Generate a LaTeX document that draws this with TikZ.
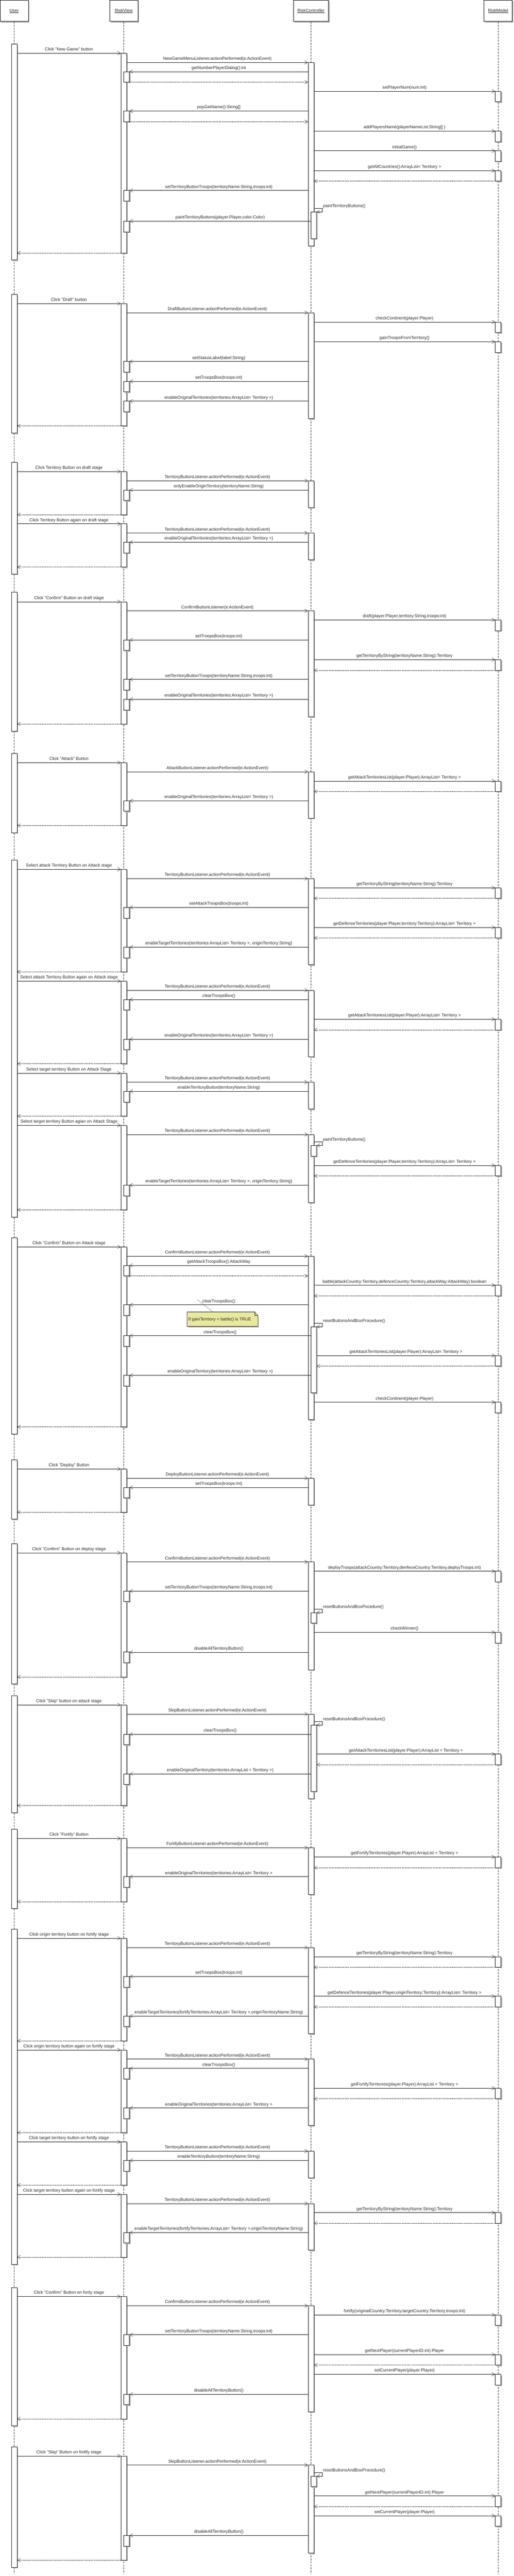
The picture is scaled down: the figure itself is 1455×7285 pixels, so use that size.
\documentclass[tikz,border=0pt]{standalone}
\usepackage{fontspec}
\setmainfont{Liberation Sans}
\usetikzlibrary{arrows.meta}
\definecolor{ink}{HTML}{262626}
\definecolor{shd}{HTML}{B8B8B8}
\definecolor{notefill}{RGB}{232,232,158}
\def\U{40}\def\V{350.5}\def\C{880.5}\def\M{1410.5}
\newcounter{cn}
\tikzset{
  txt/.style={font=\fontsize{12.2}{14}\selectfont, text=ink, inner sep=0pt},
  lbl/.style={txt, midway, anchor=base, yshift=6.6pt},
  call/.style={draw=ink, line width=0.75pt, -{Straight Barb[length=9pt,width=9.4pt]}},
  ret/.style={draw=ink, line width=0.75pt, dash pattern=on 3pt off 1.6pt, -{Straight Barb[length=9pt,width=9.4pt]}},
  life/.style={draw=ink!85, line width=0.7pt, dash pattern=on 5.5pt off 3pt},
  actbox/.style={draw=ink, line width=0.8pt, fill=white},
  headbox/.style={txt, draw=ink, line width=0.8pt, fill=white, minimum height=60.5pt},
  notebox/.style={draw=ink, line width=0.8pt, fill=notefill},
  anchorline/.style={draw=ink, line width=0.7pt, dash pattern=on 3pt off 2pt},
}
% activation bar: left x, top y, bottom y
\newcommand{\abar}[3]{%
  \fill[shd] (#1+3,#2+3) rectangle (#1+19,#3+3);
  \draw[actbox] (#1,#2) rectangle (#1+16,#3);}
\newcommand{\link}[5]{%
  \stepcounter{cn}%
  \coordinate (a\arabic{cn}) at (#2,#4);
  \coordinate (b\arabic{cn}) at (#3,#4);
  \draw[#1] (a\arabic{cn}) -- node[lbl]{#5} (b\arabic{cn});}
\newcommand{\ub}[2]{\abar{\U-8}{#1}{#2}}
\newcommand{\vb}[2]{\abar{\V-8}{#1}{#2}}
\newcommand{\cb}[2]{\abar{\C-8}{#1}{#2}}
\newcommand{\uv}[2]{\link{call}{\U+8}{\V-8}{#1}{#2}}
\newcommand{\vc}[2]{\link{call}{\V+8}{\C-8}{#1}{#2}}
\newcommand{\cv}[2]{\abar{\V}{#1}{#1+30}\link{call}{\C-8}{\V+16}{#1}{#2}}
\newcommand{\cvn}[2]{\abar{\V}{#1}{#1+30}\link{call}{\C}{\V+16}{#1}{#2}}
\newcommand{\vcret}[1]{\link{ret}{\V+16}{\C-8}{#1}{}}
\newcommand{\cm}[2]{\abar{\M-8}{#1}{#1+30}\link{call}{\C+8}{\M-8}{#1}{#2}}
\newcommand{\cmr}[2]{\cm{#1}{#2}\link{ret}{\M-8}{\C+8}{#1+30}{}}
\newcommand{\cmnr}[2]{\abar{\M-8}{#1}{#1+30}\link{call}{\C+16}{\M-8}{#1}{#2}\link{ret}{\M-8}{\C+16}{#1+30}{}}
\newcommand{\vu}[1]{\link{ret}{\V-8}{\U+8}{#1}{}}
\newcommand{\selfc}[3]{%
  \abar{\C}{#1+10}{#3}%
  \stepcounter{cn}%
  \coordinate (a\arabic{cn}) at (\C+8,#1);
  \coordinate (b\arabic{cn}) at (\C+16,#1+10);
  \draw[call] (a\arabic{cn}) -- ++(24,0) |- (b\arabic{cn});
  \node[txt, anchor=base west] (s\arabic{cn}) at (\C+34,#1-2.5) {#2};}
\begin{document}
\begin{tikzpicture}[x=1pt,y=-1pt]
\useasboundingbox (0,0) rectangle (1455,7285);
% headers
\fill[shd] (\U-40+3.5,3.5) rectangle (\U+40+3.5,64);
\fill[shd] (\V-40+3.5,3.5) rectangle (\V+40+3.5,64);
\fill[shd] (\C-50+3.5,3.5) rectangle (\C+50+3.5,64);
\fill[shd] (\M-40+3.5,3.5) rectangle (\M+40+3.5,64);
\node[headbox, minimum width=80pt] (user) at (\U,30.5) {\underline{User}};
\node[headbox, minimum width=80pt] (view) at (\V,30.5) {\underline{RiskView}};
\node[headbox, minimum width=100pt] (ctrl) at (\C,30.5) {\underline{RiskController}};
\node[headbox, minimum width=80pt] (model) at (\M,30.5) {\underline{RiskModel}};
\coordinate (userend) at (\U,7278);
\coordinate (viewend) at (\V,7278);
\coordinate (ctrlend) at (\C,7278);
\coordinate (modelend) at (\M,7278);
\draw[life] (user.south) -- (userend);
\draw[life] (view.south) -- (viewend);
\draw[life] (ctrl.south) -- (ctrlend);
\draw[life] (model.south) -- (modelend);

% ---- New Game
\ub{124.5}{735}\vb{150.5}{715.5}\cb{176.5}{695}
\uv{150.5}{Click "New Game" button}
\vc{176.5}{NewGameMenuListener.actionPerformed(e:ActionEvent)}
\cv{202.3}{getNumberPlayerDialog():int}\vcret{232.3}
\cm{258}{setPlayerNum(num:int)}
\cv{314}{popGetName():String[]}\vcret{344}
\cm{370.5}{addPlayersName(playerNameList:String[] )}
\cm{426.5}{initialGame()}
\cmr{482.5}{getAllCountries():ArrayList< Territory >}
\cv{538.5}{setTerritoryButtonTroops(territoryName:String,troops:int)}
\selfc{589}{paintTerritoryButtons()}{675}
\cvn{625.5}{paintTerritoryButtons(player:Player,color:Color)}
\vu{715.5}

% ---- Draft
\ub{832.2}{1224.7}\vb{858.3}{1204.5}\cb{884.3}{1184}
\uv{858.3}{Click "Draft" button}
\vc{884.3}{DraftButtonListener.actionPerformed(e:ActionEvent)}
\cm{910.4}{checkContinent(player:Player)}
\cm{966.4}{gainTroopsFromTerritory()}
\cv{1022.4}{setStatusLabel(label:String)}
\cv{1078.4}{setTroopsBox(troops:int)}
\cv{1134.4}{enableOriginalTerritories(territories:ArrayList< Territory >)}
\vu{1204.5}

% ---- Territory on draft stage
\ub{1307.2}{1623.2}\vb{1333.2}{1455.3}\cb{1359.3}{1435.3}
\uv{1333.2}{Click Territory Button on draft stage}
\vc{1359.3}{TerritoryButtonListener.actionPerformed(e:ActionEvent)}
\cv{1385.5}{onlyEnableOriginTerritory(territoryName:String)}
\vu{1455.3}
\vb{1481.2}{1603.5}\cb{1507.4}{1583.4}
\uv{1481.2}{Click Territory Button again on draft stage}
\vc{1507.4}{TerritoryButtonListener.actionPerformed(e:ActionEvent)}
\cv{1533.3}{enableOriginalTerritories(territories:ArrayList< Territory >)}
\vu{1603.5}

% ---- Confirm on draft stage
\ub{1675.2}{2067.3}\vb{1701.5}{2047.2}\cb{1727.3}{2027.2}
\uv{1701.5}{Click "Confirm" Button on draft stage}
\vc{1727.3}{ConfirmButtonListener(e:ActionEvent)}
\cm{1753.2}{draft(player:Player,territory:String,troops:int)}
\cv{1809.5}{setTroopsBox(troops:int)}
\cmr{1865.4}{getTerritoryByString(territoryName:String):Territory}
\cv{1921.4}{setTerritoryButtonTroops(territoryName:String,troops:int)}
\cv{1977.4}{enableOriginalTerritories(territories:ArrayList< Territory >)}
\vu{2047.2}

% ---- Attack
\ub{2130.2}{2354.3}\vb{2156.4}{2334.3}\cb{2182.3}{2314.2}
\uv{2156.4}{Click "Attack" Button}
\vc{2182.3}{AttackButtonListener.actionPerformed(e:ActionEvent)}
\cmr{2208.5}{getAttackTerritoriesList(player:Player):ArrayList< Territory >}
\cv{2264.4}{enableOriginalTerritories(territories:ArrayList< Territory >)}
\vu{2334.3}

% ---- Select territories on attack stage
\ub{2432.3}{3441.7}\vb{2458.5}{2748.3}\cb{2484.4}{2728.3}
\uv{2458.5}{Select attack Territory Button on Attack stage}
\vc{2484.4}{TerritoryButtonListener.actionPerformed(e:ActionEvent)}
\cmr{2510.6}{getTerritoryByString(territoryName:String):Territory}
\cv{2566.2}{setAttackTroopsBox(troops:int)}
\cmr{2622.5}{getDefenceTerritories(player:Player,territory:Territory):ArrayList< Territory >}
\cv{2678.5}{enableTargetTerritories(territories:ArrayList< Territory >, originTerritory:String)}
\vu{2748.3}
\vb{2774.6}{3008.3}\cb{2800.4}{2988.3}
\uv{2774.6}{Select attack Territory Button again on Attack stage}
\vc{2800.4}{TerritoryButtonListener.actionPerformed(e:ActionEvent)}
\cv{2826.3}{clearTroopsBox()}
\cmr{2882.2}{getAttackTerritoriesList(player:Player):ArrayList< Territory >}
\cv{2938.5}{enableOriginalTerritories(territories:ArrayList< Territory >)}
\vu{3008.3}
\vb{3034.6}{3156.2}\cb{3060.4}{3136.4}
\uv{3034.6}{Select target territory Button on Attack Stage}
\vc{3060.4}{TerritoryButtonListener.actionPerformed(e:ActionEvent)}
\cv{3086.3}{enableTerritoryButton(territoryName:String)}
\vu{3156.2}
\vb{3182.4}{3421.2}\cb{3208.3}{3401.2}
\uv{3182.4}{Select target territory Button agian on Attack Stage}
\vc{3208.3}{TerritoryButtonListener.actionPerformed(e:ActionEvent)}
\selfc{3229.1}{paintTerritoryButtons()}{3269.2}
\cmr{3295.5}{getDefenceTerritories(player:Player,territory:Territory):ArrayList< Territory >}
\cv{3351.4}{enableTargetTerritories(territories:ArrayList< Territory >, originTerritory:String)}
\vu{3421.2}

% ---- Confirm on attack stage
\ub{3500.3}{4055.2}\vb{3526.2}{4035.1}\cb{3552.4}{4015}
\uv{3526.2}{Click "Confirm" Button on Attack stage}
\vc{3552.4}{ConfirmButtonListener.actionPerformed(e:ActionEvent)}
\cv{3578.3}{getAttackTroopsBox():AttackWay}\vcret{3608.3}
\cmr{3634.6}{battle(attackCountry:Territory,defenceCountry:Territory,attackWay:AttackWay):boolean}
\cv{3690.1}{clearTroopsBox()}
\fill[shd] (533,3713) -- (724,3713) -- (733,3723) -- (733,3754) -- (533,3754) -- cycle;
\draw[notebox] (530,3710.2) -- (721,3710.2) -- (730,3719.5) -- (730,3751) -- (530,3751) -- cycle;
\draw[ink, line width=0.7pt] (721,3710.2) -- (721,3719.5) -- (730,3719.5);
\node[txt, anchor=base west] (note) at (533,3735.5) {If gainTerritory = battle() is TRUE};
\coordinate (noteanchor) at (603,3710.2);
\coordinate (notelabel) at (559.6,3675.9);
\draw[anchorline] (notelabel) -- (noteanchor);
\selfc{3741.5}{resetButtonsAndBoxProcedure()}{3939}
\cvn{3777.4}{clearTroopsBox()}
\cmnr{3833.3}{getAttackTerritoriesList(player:Player):ArrayList< Territory >}
\cvn{3889.3}{enableOriginalTerritory(territories:ArrayList< Territory >)}
\cm{3965.3}{checkContinent(player:Player)}
\vu{4035.1}

% ---- Deploy
\ub{4128.5}{4296.3}\vb{4154.3}{4276.3}\cb{4180.2}{4256.2}
\uv{4154.3}{Click "Deploy" Button}
\vc{4180.2}{DeployButtonListener.actionPerformed(e:ActionEvent)}
\cv{4206.4}{setTroopsBox(troops:int)}
\vu{4276.3}

% ---- Confirm on deploy stage
\ub{4365.4}{4762.4}\vb{4391.3}{4742.4}\cb{4417.1}{4722.3}
\uv{4391.3}{Click "Confirm" Button on deploy stage}
\vc{4417.1}{ConfirmButtonListener.actionPerformed(e:ActionEvent)}
\cm{4443.4}{deployTroops(attackCountry:Territory,denfeceCountry:Territory,deployTroops:int)}
\cv{4499.3}{setTerritoryButtonTroops(territoryName:String,troops:int)}
\selfc{4550.2}{resetButtonsAndBoxPocedure()}{4590.4}
\cm{4616.2}{checkWinner()}
\cv{4672.2}{disableAllTerritoryButton()}
\vu{4742.4}

% ---- Skip on attack stage
\ub{4794.8}{5126.3}\vb{4821.1}{5106.3}\cb{4847.3}{5086.2}
\uv{4821.1}{Click "Skip" button on attack stage}
\vc{4847.3}{SkipButtonListener.actionPerformed(e:ActionEvent)}
\selfc{4868.2}{resetButtonsAndBoxProcedure()}{5066.5}
\cvn{4904.4}{clearTroopsBox()}
\cmnr{4960.4}{getAttackTerritoriesList(player:Player):ArrayList < Territory >}
\cvn{5016.4}{enableOriginalTerritory(territories:ArrayList < Territory >)}
\vu{5106.3}

% ---- Fortify
\ub{5173.4}{5397.2}\vb{5199.2}{5377.5}\cb{5225.5}{5357.4}
\uv{5199.2}{Click "Fortify" Button}
\vc{5225.5}{FortifyButtonListener.actionPerformed(e:ActionEvent)}
\cmr{5251.7}{getFortifyTerritories(player:Player):ArrayList < Territory >}
\cv{5307.3}{enableOriginalTerritories(territories:ArrayList< Territory >}
\vu{5377.5}

% ---- Territory buttons on fortify stage
\ub{5455.4}{6403.5}\vb{5481.3}{5771.5}\cb{5507.5}{5751.4}
\uv{5481.3}{Click origin territory button on fortify stage}
\vc{5507.5}{TerritoryButtonListener.actionPerformed(e:ActionEvent)}
\cmr{5533.3}{getTerritoryByString(territoryName:String):Territory}
\cv{5589.4}{setTroopsBox(troops:int)}
\cmr{5645.3}{getDefenceTerritories(player:Player,originTerritory:Territory):ArrayList< Territory >}
\cv{5701.2}{enableTargetTerritories(fortifyTerritories:ArrayList< Territory >,originTerritoryName:String)}
\vu{5771.5}
\vb{5797.3}{6031.1}\cb{5823.2}{6011}
\uv{5797.3}{Click origin territory button again on fortify stage}
\vc{5823.2}{TerritoryButtonListener.actionPerformed(e:ActionEvent)}
\cv{5849.4}{clearTroopsBox()}
\cmr{5905.3}{getFortifyTerritories(player:Player):ArrayList < Territory >}
\cv{5961.3}{enableOriginalTerritories(territories:ArrayList< Territory >}
\vu{6031.1}
\vb{6057.3}{6179.3}\cb{6083.2}{6159.3}
\uv{6057.3}{Click target territory button on fortify stage}
\vc{6083.2}{TerritoryButtonListener.actionPerformed(e:ActionEvent)}
\cv{6109.4}{enableTerritoryButton(territoryName:String)}
\vu{6179.3}
\vb{6205.6}{6383}\cb{6231.4}{6363.4}
\uv{6205.6}{Click target territory button again on fortify stage}
\vc{6231.4}{TerritoryButtonListener.actionPerformed(e:ActionEvent)}
\cmr{6257.3}{getTerritoryByString(territoryName:String):Territory}
\cv{6313.2}{enableTargetTerritories(fortifyTerritories:ArrayList< Territory >,originTerritoryName:String)}
\vu{6383}

% ---- Confirm on fortify stage
\ub{6468.7}{6860.4}\vb{6494.5}{6840.4}\cb{6520.4}{6820.4}
\uv{6494.5}{Click "Confirm" Button on fority stage}
\vc{6520.4}{ConfirmButtonListener.actionPerformed(e:ActionEvent)}
\cm{6546.2}{fortify(originalCountry:Territory,targetCountry:Territory,troops:int)}
\cv{6602.6}{setTerritoryButtonTroops(territoryName:String,troops:int)}
\cmr{6658.5}{getNextPlayer(currentPlayerID:int):Player}
\cm{6714.5}{setCurrentPlayer(player:Player)}
\cv{6770.5}{disableAllTerritoryButton()}
\vu{6840.4}

% ---- Skip on fortify stage
\ub{6919.6}{7260.2}\vb{6945.4}{7240.3}\cb{6971.3}{7220.3}
\uv{6945.4}{Click "Skip" Button on fortify stage}
\vc{6971.3}{SkipButtonListener.actionPerformed(e:ActionEvent)}
\selfc{6992.3}{resetButtonsAndBoxProcedure()}{7032.2}
\cmr{7058.4}{getNextPlayer(currentPlayerID:int):Player}
\cm{7114.5}{setCurrentPlayer(player:Player)}
\cv{7170.3}{disableAllTerritoryButton()}
\vu{7240.3}
\end{tikzpicture}
\end{document}
